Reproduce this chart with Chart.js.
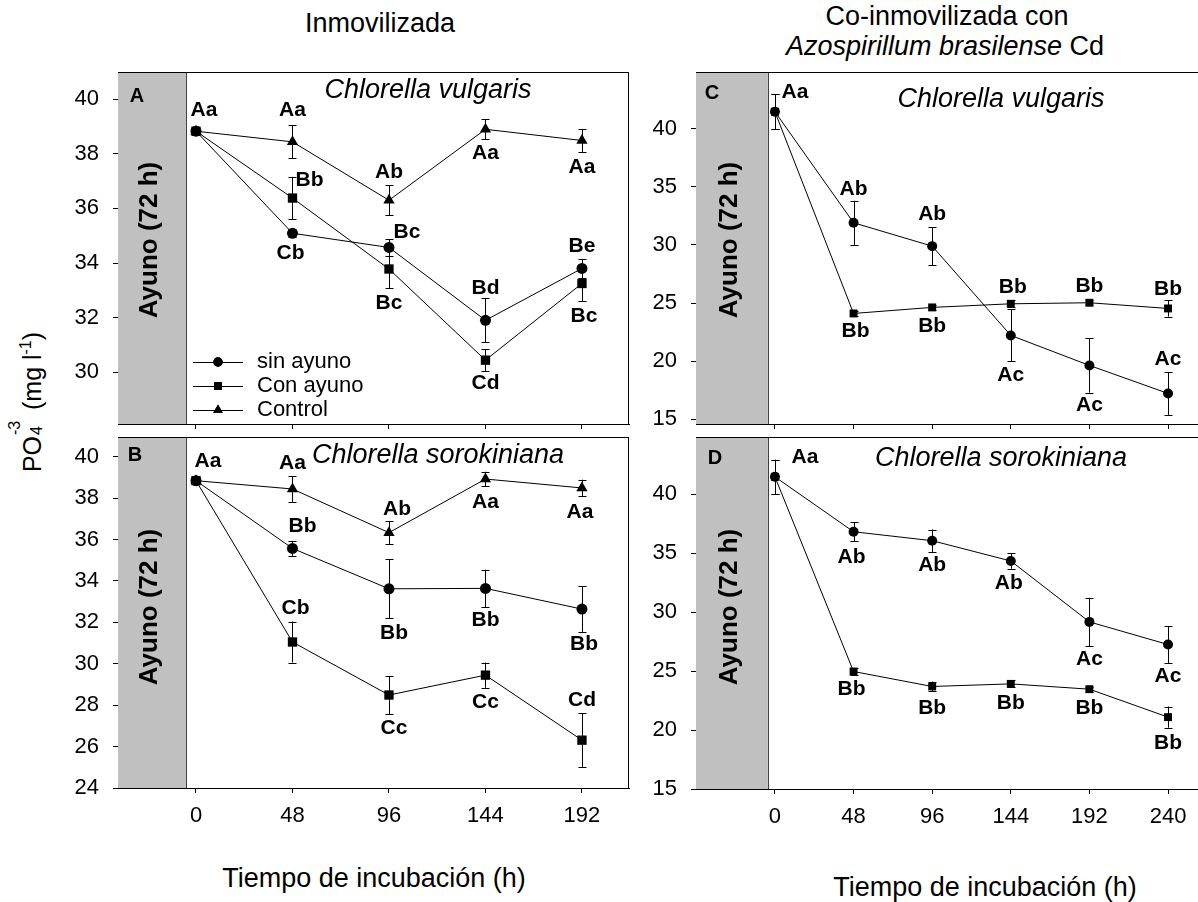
<!DOCTYPE html>
<html><head><meta charset="utf-8">
<script src="https://cdn.jsdelivr.net/npm/chart.js@4.4.1/dist/chart.umd.min.js"></script>
<style>
html,body{margin:0;padding:0;background:#fff;overflow:hidden;width:1198px;height:902px;}
body{position:relative;font-family:"Liberation Sans",Arial,sans-serif;color:#000;}
canvas{position:absolute;}
.t{position:absolute;white-space:nowrap;transform:translate(-50%,-50%);font-size:27px;line-height:1;}
.stk{display:inline-block;position:relative;width:19px;height:1em;}
.stk span{position:absolute;left:1px;font-size:16px;line-height:1;}
</style></head><body>
<div class="t" style="left:380px;top:23px">Inmovilizada</div>
<div class="t" style="left:947px;top:16px">Co-inmovilizada con</div>
<div class="t" style="left:945px;top:46px"><i>Azospirillum brasilense</i> Cd</div>
<div class="t" style="left:374px;top:878px">Tiempo de incubación (h)</div>
<div class="t" style="left:985px;top:887px">Tiempo de incubación (h)</div>
<div class="t" style="left:30px;top:402px;font-size:25px;transform:translate(-50%,-50%) rotate(-90deg)">PO<span class="stk"><span style="top:-9px">-3</span><span style="top:13px">4</span></span> (mg l<sup style="font-size:16px">-1</sup>)</div>
<canvas id="cA"></canvas>
<canvas id="cB"></canvas>
<canvas id="cC"></canvas>
<canvas id="cD"></canvas>
<script>
// ---------- DATA ----------
const seriesNames = ['sin ayuno', 'Con ayuno', 'Control'];
const hoursAB = [0, 48, 96, 144, 192];
const hoursCD = [0, 48, 96, 144, 192, 240];
const yTicksA = [30, 32, 34, 36, 38, 40];
const yTicksB = [24, 26, 28, 30, 32, 34, 36, 38, 40];
const yTicksCD = [15, 20, 25, 30, 35, 40];

// Panel A: Chlorella vulgaris (inmovilizada)
const A_sin = [38.83, 35.09, 34.57, 31.90, 33.80];
const A_sinErr = [0, 0.15, 0.30, 0.81, 0.35];
const A_sinLbl = ['Aa', 'Cb', 'Bc', 'Bd', 'Be'];
const A_con = [38.83, 36.38, 33.78, 30.44, 33.25];
const A_conErr = [0, 0.78, 0.70, 0.40, 0.65];
const A_conLbl = ['', 'Bb', 'Bc', 'Cd', 'Bc'];
const A_ctrl = [38.83, 38.44, 36.30, 38.90, 38.49];
const A_ctrlErr = [0, 0.61, 0.55, 0.36, 0.42];
const A_ctrlLbl = ['', 'Aa', 'Ab', 'Aa', 'Aa'];

// Panel B: Chlorella sorokiniana (inmovilizada)
const B_sin = [38.84, 35.57, 33.62, 33.64, 32.64];
const B_sinErr = [0, 0.36, 1.43, 0.90, 1.10];
const B_sinLbl = ['Aa', 'Bb', 'Bb', 'Bb', 'Bb'];
const B_con = [38.84, 31.05, 28.49, 29.45, 26.31];
const B_conErr = [0, 0.99, 0.92, 0.61, 1.29];
const B_conLbl = ['', 'Cb', 'Cc', 'Cc', 'Cd'];
const B_ctrl = [38.84, 38.44, 36.33, 38.92, 38.49];
const B_ctrlErr = [0, 0.62, 0.55, 0.35, 0.40];
const B_ctrlLbl = ['', 'Aa', 'Ab', 'Aa', 'Aa'];

// Panel C: Chlorella vulgaris (co-inmovilizada)
const C_sin = [41.46, 31.91, 29.90, 22.22, 19.64, 17.23];
const C_sinErr = [1.50, 1.90, 1.63, 2.24, 2.34, 1.85];
const C_sinLbl = ['Aa', 'Ab', 'Ab', 'Ac', 'Ac', 'Ac'];
const C_con = [41.46, 24.11, 24.63, 24.94, 25.03, 24.54];
const C_conErr = [1.50, 0.20, 0.20, 0.30, 0.20, 0.70];
const C_conLbl = ['', 'Bb', 'Bb', 'Bb', 'Bb', 'Bb'];

// Panel D: Chlorella sorokiniana (co-inmovilizada)
const D_sin = [41.49, 36.83, 36.07, 34.35, 29.18, 27.26];
const D_sinErr = [1.45, 0.80, 0.95, 0.66, 2.05, 1.57];
const D_sinLbl = ['Aa', 'Ab', 'Ab', 'Ab', 'Ac', 'Ac'];
const D_con = [41.49, 24.97, 23.70, 23.92, 23.47, 21.10];
const D_conErr = [1.45, 0.30, 0.42, 0.30, 0.20, 0.90];
const D_conLbl = ['', 'Bb', 'Bb', 'Bb', 'Bb', 'Bb'];

// ---------- LABEL PLACEMENT (pixel offsets from each point) ----------
const A_sinOff = [[8,-21],[-2,20],[18,-15],[0,-32],[0,-22]];
const A_conOff = [null,[17,-18],[0,34],[0,23],[2,33]];
const A_ctrlOff = [null,[0,-32],[0,-28],[0,24],[0,27]];
const B_sinOff = [[12,-19],[10,-22],[5,44],[0,32],[2,35]];
const B_conOff = [null,[3,-34],[5,33],[0,27],[0,-40]];
const B_ctrlOff = [null,[0,-26],[8,-23],[0,23],[-2,24]];
const C_sinOff = [[20,-20],[0,-34],[0,-32],[0,40],[0,40],[0,-34]];
const C_conOff = [null,[2,18],[0,19],[2,-17],[0,-17],[0,-19]];
const D_sinOff = [[30,-20],[-2,25],[0,25],[-2,22],[0,37],[0,32]];
const D_conOff = [null,[-2,18],[0,22],[0,19],[0,19],[0,26]];

const FONT = '"Liberation Sans", Arial, sans-serif';
Chart.defaults.font.family = FONT;
Chart.defaults.color = '#000';

const panelPlugin = {
  id: 'panelDeco',
  beforeDatasetsDraw(chart) {
    const p = chart.options.plugins.panelDeco;
    const ctx = chart.ctx, ca = chart.chartArea, xs = chart.scales.x, ys = chart.scales.y;
    const x1 = xs.getPixelForValue(p.fastEnd);
    ctx.save();
    ctx.fillStyle = '#c0c0c0';
    ctx.fillRect(ca.left, ca.top, x1 - ca.left, ca.bottom - ca.top);
    ctx.strokeStyle = '#404040'; ctx.lineWidth = 1;
    ctx.beginPath(); ctx.moveTo(Math.round(x1) + 0.5, ca.top); ctx.lineTo(Math.round(x1) + 0.5, ca.bottom); ctx.stroke();
    ctx.fillStyle = '#000';
    ctx.font = 'bold 26px ' + FONT;
    ctx.textAlign = 'center'; ctx.textBaseline = 'middle';
    ctx.translate((ca.left + x1) / 2 - 2, ca.top + p.ayunoY);
    ctx.rotate(-Math.PI / 2);
    ctx.fillText('Ayuno (72 h)', 0, 0);
    ctx.restore();
    // error bars
    ctx.save();
    ctx.strokeStyle = '#000'; ctx.lineWidth = 1;
    chart.data.datasets.forEach((ds, d) => {
      const meta = chart.getDatasetMeta(d);
      meta.data.forEach((pt, i) => {
        const e = ds.err[i];
        if (!e) return;
        const yt = ys.getPixelForValue(ds.data[i] + e), yb = ys.getPixelForValue(ds.data[i] - e);
        const x = Math.round(pt.x) + 0.5, cw = 4;
        ctx.beginPath();
        ctx.moveTo(x, yt); ctx.lineTo(x, yb);
        ctx.moveTo(x - cw, Math.round(yt) + 0.5); ctx.lineTo(x + cw, Math.round(yt) + 0.5);
        ctx.moveTo(x - cw, Math.round(yb) + 0.5); ctx.lineTo(x + cw, Math.round(yb) + 0.5);
        ctx.stroke();
      });
    });
    ctx.restore();
  },
  afterDatasetsDraw(chart) {
    const p = chart.options.plugins.panelDeco;
    const ctx = chart.ctx, ca = chart.chartArea;
    ctx.save();
    ctx.fillStyle = '#000';
    ctx.textAlign = 'center'; ctx.textBaseline = 'middle';
    ctx.font = 'bold 21px ' + FONT;
    chart.data.datasets.forEach((ds, d) => {
      const meta = chart.getDatasetMeta(d);
      meta.data.forEach((pt, i) => {
        const t = ds.ptLabels[i], o = ds.ptOff[i];
        if (t && o) ctx.fillText(t, pt.x + o[0], pt.y + o[1]);
      });
    });
    ctx.font = 'bold 20px ' + FONT;
    ctx.fillText(p.letter, ca.left + p.letterPos[0], ca.top + p.letterPos[1]);
    ctx.font = 'italic 27px ' + FONT;
    ctx.fillText(p.species, ca.left + p.speciesPos[0], ca.top + p.speciesPos[1]);
    // frame
    ctx.strokeStyle = '#000'; ctx.lineWidth = 1;
    ctx.beginPath();
    ctx.moveTo(ca.left, Math.round(ca.top) + 0.5); ctx.lineTo(ca.right, Math.round(ca.top) + 0.5);
    if (p.rightBorder) { ctx.moveTo(Math.round(ca.right) - 0.5, ca.top); ctx.lineTo(Math.round(ca.right) - 0.5, ca.bottom); }
    ctx.stroke();
    // legend
    if (p.legend) {
      ctx.font = '22px ' + FONT;
      ctx.textAlign = 'left';
      chart.data.datasets.forEach((ds, d) => {
        const y = ca.top + p.legendY + d * 24;
        const lx = ca.left + 75;
        ctx.beginPath(); ctx.moveTo(lx, Math.round(y) + 0.5); ctx.lineTo(lx + 50, Math.round(y) + 0.5); ctx.stroke();
        Chart.helpers.drawPoint(ctx, { pointStyle: ds.pointStyle, radius: ds.legendRadius, borderWidth: 0, rotation: 0 }, lx + 25, y);
        ctx.fillStyle = '#000';
        ctx.fill();
        ctx.fillText(ds.label, lx + 64, y);
      });
    }
    ctx.restore();
  }
};

function makeDataset(label, data, err, lbls, offs, style, radius) {
  return {
    label, data, err, ptLabels: lbls, ptOff: offs,
    borderColor: '#000', backgroundColor: '#000', borderWidth: 1,
    pointStyle: style, pointRadius: radius, pointHoverRadius: radius,
    pointBackgroundColor: '#000', pointBorderColor: '#000', pointBorderWidth: 0,
    legendRadius: radius * 0.85,
    tension: 0, fill: false
  };
}

function makePanel(id, box, cfg) {
  const PADL = 90, PADT = 8, PADR = 8, PADB = 60;
  const cv = document.getElementById(id);
  cv.width = box.r - box.l + PADL + PADR;
  cv.height = box.b - box.t + PADT + PADB;
  cv.style.left = (box.l - PADL) + 'px';
  cv.style.top = (box.t - PADT) + 'px';
  new Chart(cv, {
    type: 'line',
    data: { labels: cfg.hours, datasets: cfg.datasets },
    plugins: [panelPlugin],
    options: {
      responsive: false, animation: false, devicePixelRatio: 1,
      layout: { padding: { left: 0, top: PADT, right: PADR, bottom: 0 } },
      plugins: {
        legend: { display: false }, tooltip: { enabled: false },
        panelDeco: cfg.deco
      },
      scales: {
        x: {
          type: 'linear', min: cfg.xmin, max: cfg.xmax,
          afterBuildTicks: s => { s.ticks = cfg.hours.map(v => ({ value: v })); },
          afterFit: s => { s.height = PADB; s.paddingLeft = 0; s.paddingRight = 0; },
          grid: { drawOnChartArea: false, drawTicks: true, tickLength: 5, color: '#000' },
          border: { display: true, color: '#000', width: 1 },
          ticks: { color: cfg.showX ? '#000' : 'rgba(0,0,0,0)', font: { size: 22 }, padding: 10, maxRotation: 0, autoSkip: false }
        },
        y: {
          min: cfg.ymin, max: cfg.ymax,
          afterBuildTicks: s => { s.ticks = cfg.yticks.map(v => ({ value: v })); },
          afterFit: s => { s.width = PADL; s.paddingTop = 0; s.paddingBottom = 0; },
          grid: { drawOnChartArea: false, drawTicks: true, tickLength: 5, color: '#000' },
          border: { display: true, color: '#000', width: 1 },
          ticks: { color: '#000', font: { size: 22 }, padding: 14, autoSkip: false }
        }
      }
    }
  });
}

makePanel('cA', { l: 118, t: 72, r: 629, b: 424 }, {
  hours: hoursAB, xmin: -38.8, xmax: 215.4, ymin: 28.1, ymax: 41.0, yticks: yTicksA, showX: false,
  datasets: [
    makeDataset(seriesNames[0], A_sin, A_sinErr, A_sinLbl, A_sinOff, 'circle', 5.5),
    makeDataset(seriesNames[1], A_con, A_conErr, A_conLbl, A_conOff, 'rect', 6.6),
    makeDataset(seriesNames[2], A_ctrl, A_ctrlErr, A_ctrlLbl, A_ctrlOff, 'triangle', 6.5)
  ],
  deco: { fastEnd: -5, ayunoY: 168, letter: 'A', letterPos: [19, 24], species: 'Chlorella vulgaris', speciesPos: [310, 18], rightBorder: true, legend: true, legendY: 290 }
});
makePanel('cB', { l: 118, t: 437, r: 629, b: 788 }, {
  hours: hoursAB, xmin: -38.8, xmax: 215.4, ymin: 24, ymax: 40.95, yticks: yTicksB, showX: true,
  datasets: [
    makeDataset(seriesNames[0], B_sin, B_sinErr, B_sinLbl, B_sinOff, 'circle', 5.5),
    makeDataset(seriesNames[1], B_con, B_conErr, B_conLbl, B_conOff, 'rect', 6.6),
    makeDataset(seriesNames[2], B_ctrl, B_ctrlErr, B_ctrlLbl, B_ctrlOff, 'triangle', 6.5)
  ],
  deco: { fastEnd: -5, ayunoY: 170, letter: 'B', letterPos: [17, 18], species: 'Chlorella sorokiniana', speciesPos: [320, 18], rightBorder: true, legend: false }
});
makePanel('cC', { l: 696, t: 72, r: 1198, b: 424 }, {
  hours: hoursCD, xmin: -48.2, xmax: 258.3, ymin: 14.6, ymax: 44.88, yticks: yTicksCD, showX: false,
  datasets: [
    makeDataset(seriesNames[0], C_sin, C_sinErr, C_sinLbl, C_sinOff, 'circle', 5),
    makeDataset(seriesNames[1], C_con, C_conErr, C_conLbl, C_conOff, 'rect', 5.6)
  ],
  deco: { fastEnd: -4.3, ayunoY: 168, letter: 'C', letterPos: [16, 21], species: 'Chlorella vulgaris', speciesPos: [305, 27], rightBorder: false, legend: false }
});
makePanel('cD', { l: 696, t: 437, r: 1198, b: 789 }, {
  hours: hoursCD, xmin: -48.2, xmax: 258.3, ymin: 15, ymax: 44.87, yticks: yTicksCD, showX: true,
  datasets: [
    makeDataset(seriesNames[0], D_sin, D_sinErr, D_sinLbl, D_sinOff, 'circle', 5),
    makeDataset(seriesNames[1], D_con, D_conErr, D_conLbl, D_conOff, 'rect', 5.6)
  ],
  deco: { fastEnd: -4.3, ayunoY: 170, letter: 'D', letterPos: [19, 21], species: 'Chlorella sorokiniana', speciesPos: [305, 21], rightBorder: false, legend: false }
});
</script>
</body></html>
